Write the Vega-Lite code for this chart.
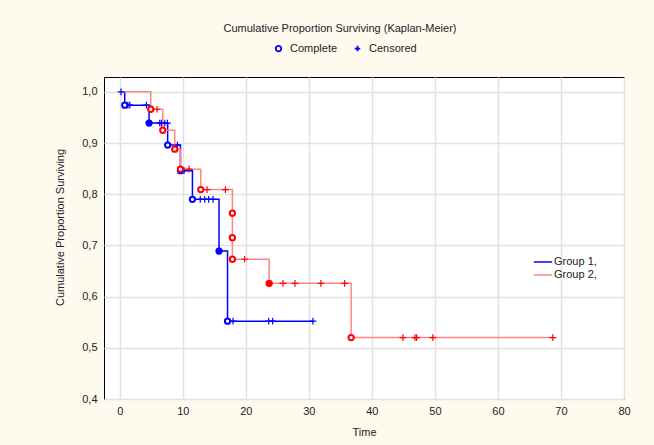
{
  "$schema": "https://vega.github.io/schema/vega-lite/v6.json",
  "width": 520,
  "height": 322,
  "autosize": {"type": "none"},
  "padding": {"left": 104, "top": 77, "right": 30, "bottom": 46},
  "background": "#fffaee",
  "title": {
    "text": "Cumulative Proportion Surviving (Kaplan-Meier)",
    "font": "Liberation Sans",
    "fontSize": 11,
    "fontWeight": "normal",
    "color": "#222222",
    "anchor": "middle",
    "dx": -24,
    "offset": 9
  },
  "config": {
    "view": {"stroke": "#000000", "strokeWidth": 1, "fill": "#ffffff"},
    "axis": {
      "labelFont": "Liberation Sans",
      "titleFont": "Liberation Sans",
      "labelFontSize": 11,
      "titleFontSize": 11,
      "titleFontWeight": "normal",
      "labelColor": "#222222",
      "titleColor": "#222222",
      "domain": false,
      "ticks": false,
      "gridColor": "#e2e2e2",
      "gridWidth": 1.5
    },
    "legend": {
      "labelFont": "Liberation Sans",
      "labelFontSize": 11,
      "labelColor": "#222222"
    }
  },
  "datasets": {
    "curves": [
      {"group": "Group 1,", "t": 0.2, "s": 1.0},
      {"group": "Group 1,", "t": 0.79, "s": 0.974},
      {"group": "Group 1,", "t": 4.65, "s": 0.939},
      {"group": "Group 1,", "t": 7.6, "s": 0.896},
      {"group": "Group 1,", "t": 9.63, "s": 0.846},
      {"group": "Group 1,", "t": 11.53, "s": 0.79},
      {"group": "Group 1,", "t": 15.75, "s": 0.689},
      {"group": "Group 1,", "t": 17.1, "s": 0.552},
      {"group": "Group 1,", "t": 30.65, "s": 0.552},
      {"group": "Group 2,", "t": 0.1, "s": 1.0},
      {"group": "Group 2,", "t": 4.92, "s": 0.966},
      {"group": "Group 2,", "t": 6.82, "s": 0.925},
      {"group": "Group 2,", "t": 8.72, "s": 0.888},
      {"group": "Group 2,", "t": 9.63, "s": 0.849},
      {"group": "Group 2,", "t": 12.85, "s": 0.809},
      {"group": "Group 2,", "t": 17.87, "s": 0.673},
      {"group": "Group 2,", "t": 23.71, "s": 0.626},
      {"group": "Group 2,", "t": 36.71, "s": 0.52},
      {"group": "Group 2,", "t": 68.71, "s": 0.52}
    ],
    "obs": [
      {"group": "Group 1,", "kind": "Censored", "t": 0.2, "s": 1.0, "d": 0},
      {"group": "Group 1,", "kind": "Complete", "t": 0.79, "s": 0.974, "d": 1},
      {"group": "Group 1,", "kind": "Censored", "t": 1.3, "s": 0.974, "d": 0},
      {"group": "Group 1,", "kind": "Censored", "t": 1.6, "s": 0.974, "d": 0},
      {"group": "Group 1,", "kind": "Censored", "t": 4.23, "s": 0.974, "d": 0},
      {"group": "Group 1,", "kind": "Complete", "t": 4.65, "s": 0.939, "d": 2},
      {"group": "Group 1,", "kind": "Censored", "t": 6.34, "s": 0.939, "d": 0},
      {"group": "Group 1,", "kind": "Censored", "t": 6.61, "s": 0.939, "d": 0},
      {"group": "Group 1,", "kind": "Censored", "t": 7.14, "s": 0.939, "d": 0},
      {"group": "Group 1,", "kind": "Censored", "t": 7.56, "s": 0.939, "d": 0},
      {"group": "Group 1,", "kind": "Complete", "t": 7.6, "s": 0.896, "d": 1},
      {"group": "Group 1,", "kind": "Censored", "t": 9.15, "s": 0.896, "d": 0},
      {"group": "Group 1,", "kind": "Complete", "t": 9.63, "s": 0.846, "d": 1},
      {"group": "Group 1,", "kind": "Censored", "t": 10.2, "s": 0.846, "d": 0},
      {"group": "Group 1,", "kind": "Complete", "t": 11.53, "s": 0.79, "d": 1},
      {"group": "Group 1,", "kind": "Censored", "t": 12.77, "s": 0.79, "d": 0},
      {"group": "Group 1,", "kind": "Censored", "t": 13.48, "s": 0.79, "d": 0},
      {"group": "Group 1,", "kind": "Censored", "t": 14.11, "s": 0.79, "d": 0},
      {"group": "Group 1,", "kind": "Censored", "t": 14.8, "s": 0.79, "d": 0},
      {"group": "Group 1,", "kind": "Complete", "t": 15.75, "s": 0.689, "d": 2},
      {"group": "Group 1,", "kind": "Complete", "t": 17.1, "s": 0.552, "d": 1},
      {"group": "Group 1,", "kind": "Censored", "t": 17.97, "s": 0.552, "d": 0},
      {"group": "Group 1,", "kind": "Censored", "t": 23.63, "s": 0.552, "d": 0},
      {"group": "Group 1,", "kind": "Censored", "t": 24.26, "s": 0.552, "d": 0},
      {"group": "Group 1,", "kind": "Censored", "t": 30.65, "s": 0.552, "d": 0},
      {"group": "Group 2,", "kind": "Complete", "t": 4.92, "s": 0.966, "d": 1},
      {"group": "Group 2,", "kind": "Censored", "t": 5.92, "s": 0.966, "d": 0},
      {"group": "Group 2,", "kind": "Complete", "t": 6.82, "s": 0.925, "d": 1},
      {"group": "Group 2,", "kind": "Complete", "t": 8.72, "s": 0.888, "d": 1},
      {"group": "Group 2,", "kind": "Complete", "t": 9.63, "s": 0.849, "d": 1},
      {"group": "Group 2,", "kind": "Censored", "t": 10.99, "s": 0.849, "d": 0},
      {"group": "Group 2,", "kind": "Complete", "t": 12.85, "s": 0.809, "d": 1},
      {"group": "Group 2,", "kind": "Censored", "t": 13.84, "s": 0.809, "d": 0},
      {"group": "Group 2,", "kind": "Censored", "t": 16.76, "s": 0.809, "d": 0},
      {"group": "Group 2,", "kind": "Complete", "t": 17.87, "s": 0.763, "d": 1},
      {"group": "Group 2,", "kind": "Complete", "t": 17.87, "s": 0.715, "d": 1},
      {"group": "Group 2,", "kind": "Complete", "t": 17.87, "s": 0.673, "d": 1},
      {"group": "Group 2,", "kind": "Censored", "t": 19.82, "s": 0.673, "d": 0},
      {"group": "Group 2,", "kind": "Complete", "t": 23.71, "s": 0.626, "d": 2},
      {"group": "Group 2,", "kind": "Censored", "t": 25.9, "s": 0.626, "d": 0},
      {"group": "Group 2,", "kind": "Censored", "t": 27.8, "s": 0.626, "d": 0},
      {"group": "Group 2,", "kind": "Censored", "t": 31.92, "s": 0.626, "d": 0},
      {"group": "Group 2,", "kind": "Censored", "t": 35.68, "s": 0.626, "d": 0},
      {"group": "Group 2,", "kind": "Complete", "t": 36.71, "s": 0.52, "d": 1},
      {"group": "Group 2,", "kind": "Censored", "t": 44.93, "s": 0.52, "d": 0},
      {"group": "Group 2,", "kind": "Censored", "t": 46.83, "s": 0.52, "d": 0},
      {"group": "Group 2,", "kind": "Censored", "t": 47.1, "s": 0.52, "d": 0},
      {"group": "Group 2,", "kind": "Censored", "t": 49.68, "s": 0.52, "d": 0},
      {"group": "Group 2,", "kind": "Censored", "t": 68.71, "s": 0.52, "d": 0}
    ]
  },
  "encoding": {
    "x": {
      "field": "t",
      "type": "quantitative",
      "title": "Time",
      "scale": {"domain": [-2.5, 80], "nice": false, "zero": false},
      "axis": {"values": [0, 10, 20, 30, 40, 50, 60, 70, 80], "labelPadding": 6, "titlePadding": 10, "labelFlush": false}
    },
    "y": {
      "field": "s",
      "type": "quantitative",
      "title": "Cumulative Proportion Surviving",
      "scale": {"domain": [0.4, 1.029], "nice": false, "zero": false},
      "axis": {
        "values": [0.4, 0.5, 0.6, 0.7, 0.8, 0.9, 1.0],
        "labelExpr": "replace(format(datum.value, '.1f'), '.', ',')",
        "labelPadding": 7,
        "titleX": -39,
        "titleY": 150,
        "labelFlush": false
      }
    }
  },
  "layer": [
    {
      "data": {"name": "curves"},
      "mark": {"type": "line", "interpolate": "step-after", "strokeWidth": 1.5},
      "encoding": {
        "color": {
          "field": "group",
          "type": "nominal",
          "scale": {"domain": ["Group 1,", "Group 2,"], "range": ["#0000ff", "#ff8585"]},
          "legend": {
            "title": null,
            "orient": "none",
            "legendX": 432,
            "legendY": 178,
            "symbolType": "M-1.5,0H1.5",
            "symbolSize": 150,
            "symbolStrokeWidth": 1.5,
            "rowPadding": 1,
            "labelOffset": 4
          }
        }
      }
    },
    {
      "data": {"name": "obs"},
      "transform": [{"filter": "datum.kind == 'Censored'"}],
      "mark": {"type": "point", "opacity": 1, "strokeWidth": 1.2, "size": 45},
      "encoding": {
        "shape": {
          "field": "kind",
          "type": "nominal",
          "scale": {"domain": ["Complete", "Censored"], "range": ["circle", "M-1,0H1M0,-1V1"]},
          "legend": {
            "title": null,
            "orient": "none",
            "direction": "horizontal",
            "legendX": 169,
            "legendY": -34,
            "columnPadding": 13,
            "labelOffset": 6,
            "symbolSize": 30,
            "symbolStrokeWidth": 1.8,
            "symbolStrokeColor": "#0000ff",
            "symbolFillColor": "#ffffff",
            "symbolOpacity": 1,
            "encode": {
              "symbols": {
                "update": {
                  "stroke": {"value": "#0000ff"},
                  "fill": {"value": "#ffffff"},
                  "opacity": {"value": 1},
                  "strokeOpacity": {"value": 1}
                }
              }
            }
          }
        },
        "stroke": {
          "field": "group",
          "type": "nominal",
          "scale": {"domain": ["Group 1,", "Group 2,"], "range": ["#0000ff", "#ff0000"]},
          "legend": null
        }
      }
    },
    {
      "data": {"name": "obs"},
      "transform": [{"filter": "datum.kind == 'Complete'"}],
      "mark": {"type": "point", "opacity": 1, "strokeWidth": 2, "size": 28},
      "encoding": {
        "shape": {"field": "kind", "type": "nominal"},
        "stroke": {"field": "group", "type": "nominal", "legend": null},
        "fill": {
          "condition": {
            "test": "datum.d > 1",
            "field": "group",
            "type": "nominal",
            "scale": {"domain": ["Group 1,", "Group 2,"], "range": ["#0000ff", "#ff0000"]},
            "legend": null
          },
          "value": "#ffffff"
        }
      }
    }
  ]
}
